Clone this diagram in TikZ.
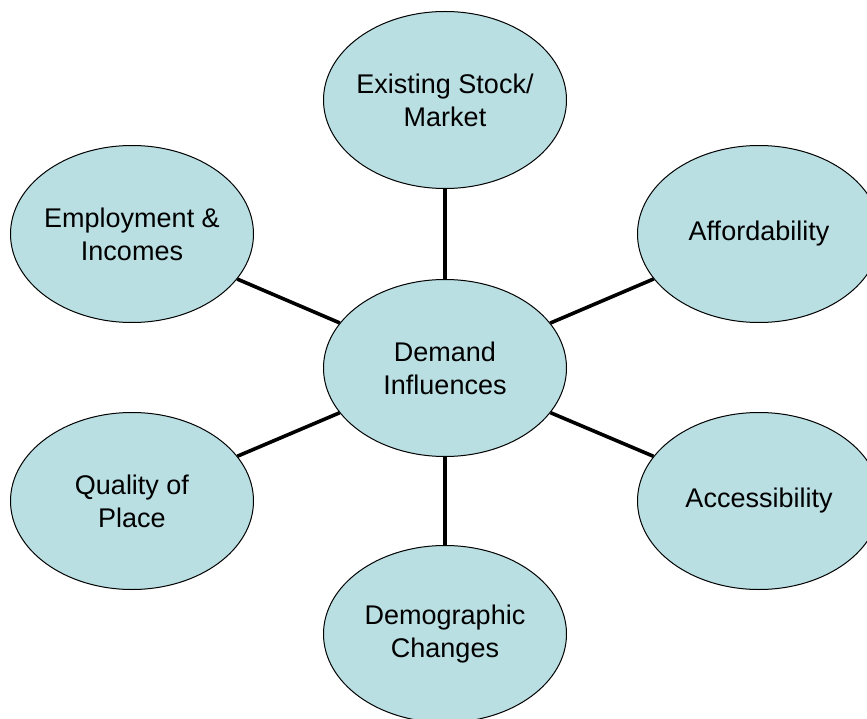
\documentclass[tikz,border=0pt]{standalone}
\usepackage{fontspec}
\setmainfont{Liberation Sans}
\usetikzlibrary{shapes.geometric}
\definecolor{bubblefill}{RGB}{185,223,227}
\tikzset{
  bubble/.style={ellipse, draw=black, line width=1pt, fill=bubblefill,
    minimum width=243pt, minimum height=177pt, inner xsep=-8pt, inner ysep=0pt,
    align=center, font=\fontsize{27}{33}\selectfont},
  link/.style={draw=black, line width=3.6pt}
}
\begin{document}
\begin{tikzpicture}[x=1pt,y=-1pt]
\clip (0,0) rectangle (867,719);
\fill[white] (0,0) rectangle (867,719);
\node[bubble] (c)  at (445,368) {Demand\\Influences};
\node[bubble] (t)  at (445,100) {Existing Stock/\\Market};
\node[bubble] (b)  at (445,634) {Demographic\\Changes};
\node[bubble] (tl) at (132,234) {Employment \&\\Incomes};
\node[bubble] (bl) at (132,501) {Quality of\\Place};
\node[bubble] (tr) at (759,234) {Affordability};
\node[bubble] (br) at (759,501) {Accessibility};
\foreach \n in {t,b,tl,bl,tr,br}{\draw[link] (c) -- (\n);}
\end{tikzpicture}
\end{document}
